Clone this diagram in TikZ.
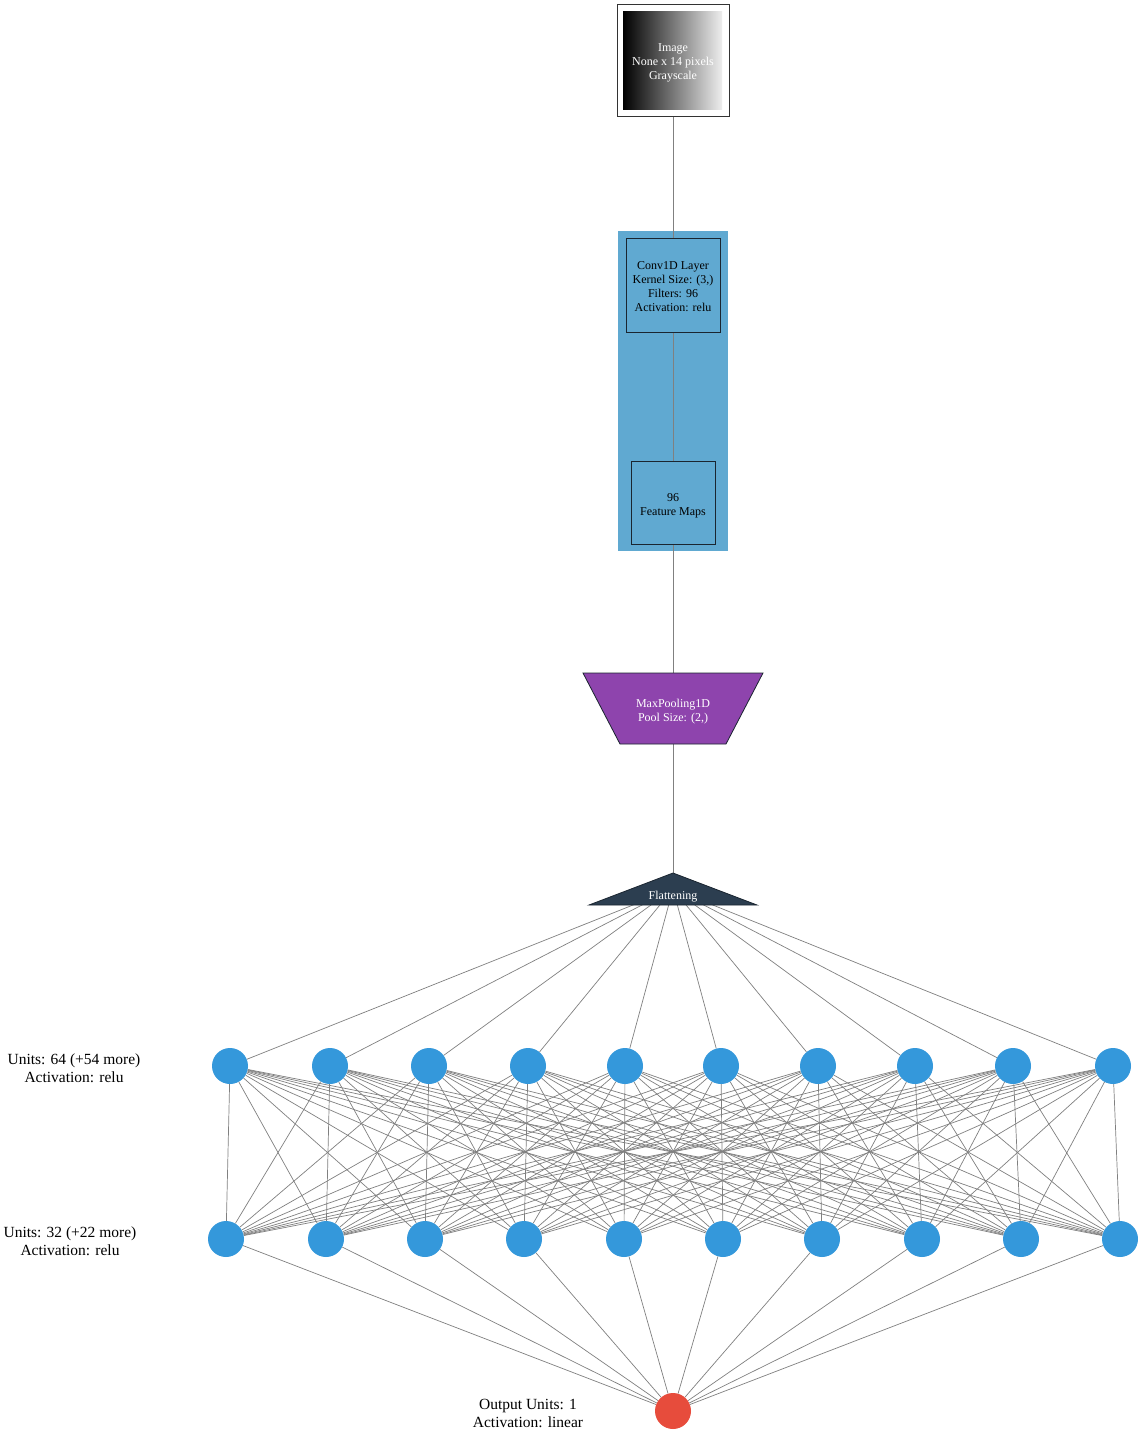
\documentclass[tikz,border=0pt]{standalone}
\usepackage{fontspec}
\setmainfont{Liberation Serif}
\definecolor{edgegray}{RGB}{128,128,128}
\definecolor{neuronblue}{HTML}{3498DB}
\definecolor{outred}{HTML}{E74C3C}
\definecolor{poolpurple}{HTML}{8E44AD}
\definecolor{flatdark}{HTML}{2C3E50}
\definecolor{convbg}{HTML}{60A9D1}
\definecolor{boxborder}{HTML}{1A2530}
\pgfdeclarelayer{back}
\pgfdeclarelayer{bg}
\pgfsetlayers{back,bg,main}
\begin{document}
\begin{tikzpicture}[x=1pt,y=-1pt,
  edge/.style={draw=edgegray, line width=0.7pt},
  neuron/.style={circle, fill=neuronblue, minimum size=36pt, inner sep=0pt},
  outneuron/.style={circle, fill=outred, minimum size=36pt, inner sep=0pt},
  box/.style={draw=boxborder, line width=0.8pt, inner sep=0pt},
  smalltext/.style={font=\fontsize{12}{14}\selectfont, align=center, inner sep=0pt},
  lbl/.style={font=\fontsize{15.5}{18}\selectfont, align=center, inner sep=0pt}]
\useasboundingbox (0,0) rectangle (1138,1433);
\begin{pgfonlayer}{back}
\fill[white] (0,0) rectangle (1138,1433);
\fill[convbg] (618,231) rectangle (728,551);
\end{pgfonlayer}

% image input
\node[draw=black!80, line width=0.8pt, minimum width=112pt, minimum height=112pt, inner sep=0pt] (img) at (673,60) {};
\shade[left color=black, right color=white!93!black] (623,11) rectangle (722,109);
\node[smalltext, text=white] (imgtxt) at (673,63) {Image\\None x 14 pixels\\Grayscale};

% conv cluster
\node[box, minimum width=94pt, minimum height=94pt] (conv) at (673,285) {};
\node[smalltext] (convtxt) at (673,287) {Conv1D Layer\\Kernel Size: (3,)\\Filters: 96\\Activation: relu};
\node[box, minimum width=84pt, minimum height=83pt] (fm) at (673,502.5) {};
\node[smalltext] (fmtxt) at (673,505.5) {96\\Feature Maps};

% maxpool
\coordinate (mptop) at (673,673);
\coordinate (mpbot) at (673,744);
\filldraw[fill=poolpurple, draw=boxborder, line width=0.8pt] (583,673) -- (763,673) -- (726,744) -- (620,744) -- cycle;
\node[smalltext, text=white] (mp) at (673,712) {MaxPooling1D\\Pool Size: (2,)};

% flatten
\coordinate (fltop) at (673,873);
\coordinate (flc) at (673,889);
\filldraw[fill=flatdark, draw=boxborder, line width=0.8pt] (673,873) -- (757,905) -- (589,905) -- cycle;
\node[smalltext, text=white, anchor=base] (fl) at (673,899) {Flattening};

% dense layers
\foreach \x [count=\i] in {230,330,429,528,625,721,818,915,1013,1113}
  \node[neuron] (a\i) at (\x,1066) {};
\foreach \x [count=\i] in {226,326,425,524,624,723,822,922,1021,1120}
  \node[neuron] (b\i) at (\x,1239) {};
\node[outneuron] (out) at (673,1411) {};

% labels
\node[lbl] (l1) at (74,1068) {Units: 64 (+54 more)\\Activation: relu};
\node[lbl] (l2) at (70,1241) {Units: 32 (+22 more)\\Activation: relu};
\node[lbl] (l3) at (528,1413) {Output Units: 1\\Activation: linear};

% edges
\begin{pgfonlayer}{bg}
\draw[edge] (img) -- (conv);
\draw[edge] (conv) -- (fm);
\draw[edge] (fm) -- (mptop);
\draw[edge] (mpbot) -- (fltop);
\foreach \i in {1,...,10} \draw[edge] (flc) -- (a\i);
\foreach \i in {1,...,10} \foreach \j in {1,...,10} \draw[edge] (a\i) -- (b\j);
\foreach \j in {1,...,10} \draw[edge] (b\j) -- (out);
\end{pgfonlayer}
\end{tikzpicture}
\end{document}
